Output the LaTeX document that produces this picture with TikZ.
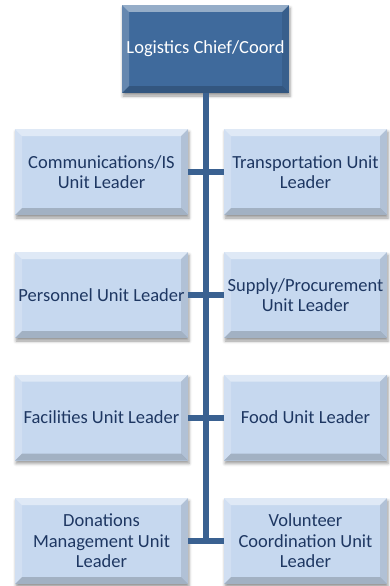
\documentclass[tikz,border=0pt]{standalone}
\usepackage{fontspec}
\setmainfont{Carlito}
\usetikzlibrary{shadows.blur}

\definecolor{chieffill}{RGB}{63,106,156}
\definecolor{unitfill}{RGB}{198,216,239}
\definecolor{unittext}{RGB}{30,55,98}
\definecolor{trunk}{RGB}{58,97,145}

\begin{document}
\begin{tikzpicture}[x=1pt,y=-1pt,
			bevel/.style={path picture={
				\fill[white,opacity=.45] (path picture bounding box.north west) -- (path picture bounding box.north east)
					-- ([shift={(-7pt,-7pt)}]path picture bounding box.north east) -- ([shift={(7pt,-7pt)}]path picture bounding box.north west) -- cycle;
				\fill[white,opacity=.2] (path picture bounding box.north west) -- ([shift={(7pt,-7pt)}]path picture bounding box.north west)
					-- ([shift={(7pt,7pt)}]path picture bounding box.south west) -- (path picture bounding box.south west) -- cycle;
				\fill[black,opacity=.18] (path picture bounding box.south west) -- (path picture bounding box.south east)
					-- ([shift={(-7pt,7pt)}]path picture bounding box.south east) -- ([shift={(7pt,7pt)}]path picture bounding box.south west) -- cycle;
				\fill[black,opacity=.1] (path picture bounding box.south east) -- (path picture bounding box.north east)
					-- ([shift={(-7pt,-7pt)}]path picture bounding box.north east) -- ([shift={(-7pt,7pt)}]path picture bounding box.south east) -- cycle;
			}},
			box/.style = {bevel,align=center,inner sep=2pt,minimum height=86pt,
				font=\fontsize{18.5}{20.5}\selectfont,
				blur shadow={shadow xshift=1pt,shadow yshift=-3pt,shadow blur radius=3pt,shadow opacity=40}},
			chief/.style = {box,fill=chieffill,text=white,minimum width=167pt,minimum height=88pt},
			leftunit/.style = {box,fill=unitfill,text=unittext,minimum width=173pt},
			rightunit/.style = {box,fill=unitfill,text=unittext,minimum width=163pt},
			link/.style = {draw=trunk,line width=6pt}]
			\useasboundingbox (0,0) rectangle (389,586);

			\node [chief] (lcc) at (205.5,49) {Logistics Chief/Coord};

			\node [leftunit] (comm) at (101.5,172) {Communications/IS\\Unit Leader};
			\node [rightunit] (trans) at (305.5,172) {Transportation Unit\\Leader};
			\node [leftunit] (pers) at (101.5,295) {Personnel Unit Leader};
			\node [rightunit] (supp) at (305.5,295) {Supply/Procurement\\Unit Leader};
			\node [leftunit] (fac) at (101.5,417.5) {Facilities Unit Leader};
			\node [rightunit] (food) at (305.5,417.5) {Food Unit Leader};
			\node [leftunit] (don) at (101.5,541) {Donations\\Management Unit\\Leader};
			\node [rightunit] (vol) at (305.5,541) {Volunteer\\Coordination Unit\\Leader};

			\draw [link] (lcc.south) -- (lcc.south |- don.east);
			\draw [link] (comm.east) -- (trans.west);
			\draw [link] (pers.east) -- (supp.west);
			\draw [link] (fac.east) -- (food.west);
			\draw [link] (don.east) -- (vol.west);
		\end{tikzpicture}
\end{document}
